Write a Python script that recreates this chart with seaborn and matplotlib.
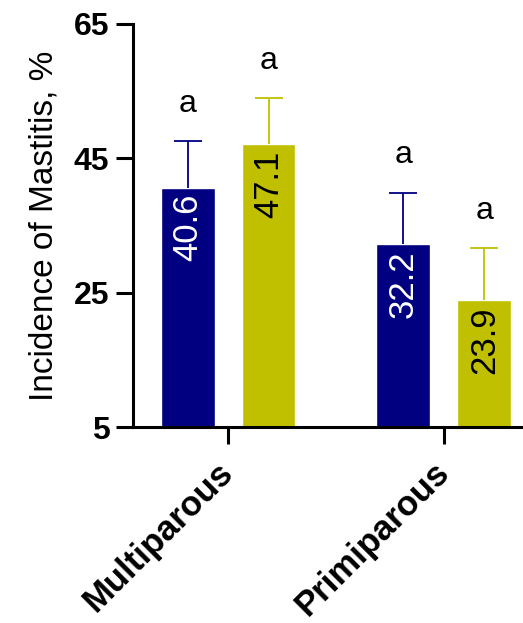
import pandas as pd
import numpy as np
import seaborn as sns
import matplotlib.pyplot as plt

# chart data
categories = ['Multiparous', 'Primiparous']
groups = ['Group 1', 'Group 2']
incidence = [40.6, 47.1, 32.2, 23.9]   # Multiparous g1, g2, Primiparous g1, g2
sem = [6.9, 6.8, 7.7, 7.7]
letters = ['a', 'a', 'a', 'a']
y_ticks = [5, 25, 45, 65]

bar_colors = ['#000080', '#C0C000']
text_colors = ['white', 'black']

df = pd.DataFrame({
    'parity': np.repeat(categories, len(groups)),
    'group': groups * len(categories),
    'incidence': incidence,
})

sns.set_style('ticks')
plt.rcParams['font.family'] = ['Liberation Sans', 'DejaVu Sans']
plt.rcParams['text.color'] = 'black'
plt.rcParams['axes.labelcolor'] = 'black'
plt.rcParams['xtick.color'] = 'black'
plt.rcParams['ytick.color'] = 'black'

fig = plt.figure(figsize=(5.23, 6.23), dpi=100)
ax = fig.add_axes([0.2543, 0.3146, 0.7457, 0.647])

sns.barplot(data=df, x='parity', y='incidence', hue='group', palette=bar_colors,
            saturation=1, width=0.75, gap=1/3, errorbar=None, legend=False, ax=ax)

# sort bars left to right so they line up with the data lists
bars = sorted([p for p in ax.patches if p.get_width() > 0], key=lambda p: p.get_x())
for i, bar in enumerate(bars):
    x = bar.get_x() + bar.get_width() / 2
    h = bar.get_height()
    g = i % len(groups)
    eb = ax.errorbar(x, h, yerr=[[0], [sem[i]]], color=bar_colors[g], elinewidth=1.3,
                     capsize=10, capthick=1.3, zorder=1)
    eb[1][0].set_visible(False)   # no cap at the bar top
    ax.text(x, h - 0.9, f'{incidence[i]:.1f}', rotation=90, ha='center', va='top',
            color=text_colors[g], fontsize=25)
    ax.text(x, h + sem[i] + 4.4, letters[i], ha='center', va='baseline', fontsize=23)

ax.set_ylim(5, 65)
ax.set_xlim(-0.44, 1.366)
ax.set_yticks(y_ticks)
ax.set_xlabel('')
ax.set_ylabel('Incidence of Mastitis, %', fontsize=24, labelpad=10)
ax.tick_params(axis='both', length=12, width=2.2, pad=5, colors='black')
ax.tick_params(axis='x', pad=17)
for lbl in ax.get_yticklabels():
    lbl.set_fontsize(23)
    lbl.set_fontweight('bold')
ax.set_xticks(range(len(categories)))
ax.set_xticklabels(categories, rotation=45, ha='right', va='center',
                   rotation_mode='anchor', fontsize=25, fontweight='bold')
for side in ['top', 'right']:
    ax.spines[side].set_visible(False)
for side in ['left', 'bottom']:
    ax.spines[side].set_linewidth(2.2)
    ax.spines[side].set_color('black')

plt.savefig('out.png', dpi=100)
